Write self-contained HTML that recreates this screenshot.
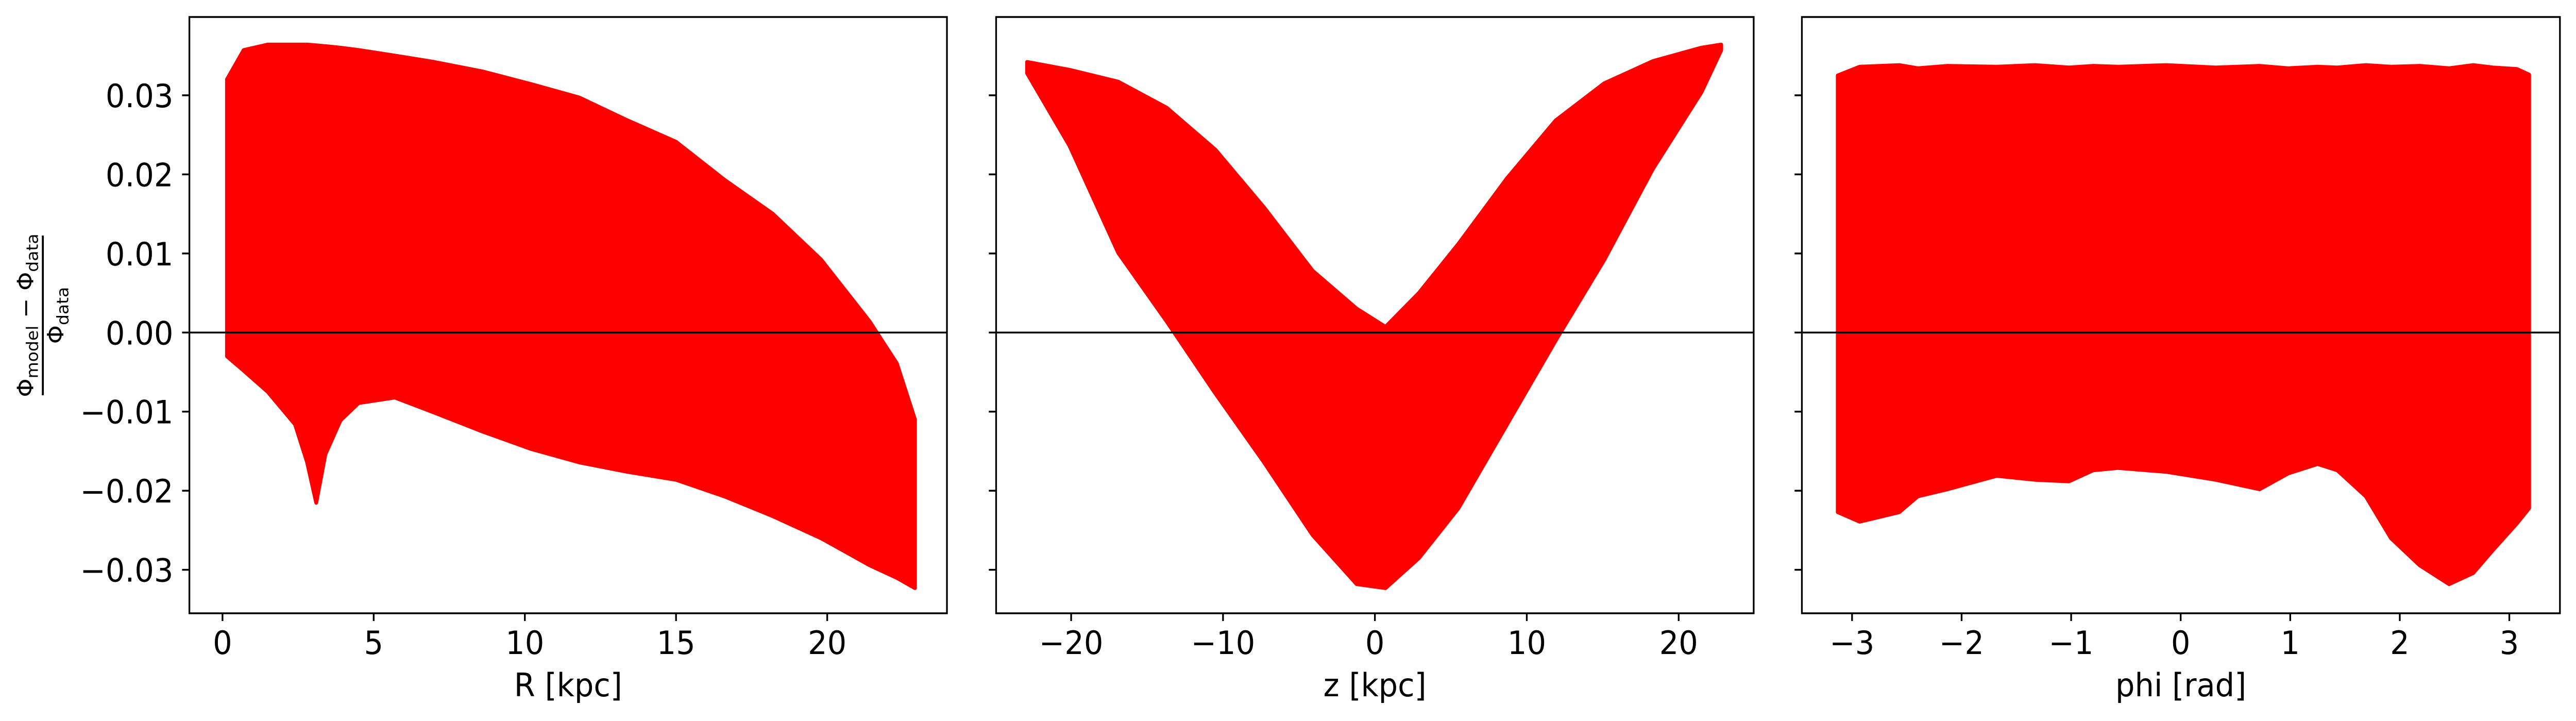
<!DOCTYPE html>
<html><head><meta charset="utf-8"><style>
html,body{margin:0;padding:0;background:#fff;overflow:hidden;width:100%;height:100%;}
svg{display:block;position:absolute;left:0;top:0;width:100vw;height:100vh;font-family:"DejaVu Sans","Liberation Sans",sans-serif;}
</style></head><body>
<svg id="chart" viewBox="0 0 5291 1399" preserveAspectRatio="none" xmlns="http://www.w3.org/2000/svg">
<g transform="translate(88,612) rotate(-90)">
  <text x="0" y="-20" text-anchor="middle" font-size="46">Φ<tspan font-size="33" dy="10">model</tspan><tspan dy="-10"> − Φ</tspan><tspan font-size="33" dy="10">data</tspan></text>
  <line x1="-155" y1="0" x2="155" y2="0" stroke="#000" stroke-width="4"/>
  <text x="0" y="42" text-anchor="middle" font-size="46">Φ<tspan font-size="33" dy="10">data</tspan></text>
</g>
</svg>
<script>
// Shared y axis
const yTicks = [-0.03, -0.02, -0.01, 0.00, 0.01, 0.02, 0.03];
const yTickLabels = ["−0.03", "−0.02", "−0.01", "0.00", "0.01", "0.02", "0.03"];
const yMin = -0.0355, yMax = 0.0399;

// Panel 1: R [kpc]
const rTicks = [0, 5, 10, 15, 20];
const rX = [0.15, 0.7, 1.5, 2.4, 2.8, 3.1, 3.4, 3.9, 4.5, 5.7, 7, 8.6, 10.2, 11.8, 13.4, 15, 16.6, 18.2, 19.8, 21.4, 22.3, 22.9];
const rUpper = [0.032, 0.0357, 0.0364, 0.0364, 0.0364, 0.0363, 0.0362, 0.036, 0.0357, 0.035, 0.0342, 0.033, 0.0314, 0.0297, 0.0268, 0.0241, 0.0193, 0.015, 0.0092, 0.0014, -0.0039, -0.011];
const rLower = [-0.003, -0.0048, -0.0075, -0.0116, -0.0164, -0.0215, -0.0154, -0.0111, -0.0089, -0.0082, -0.0101, -0.0125, -0.0147, -0.0164, -0.0176, -0.0186, -0.0207, -0.0232, -0.026, -0.0294, -0.031, -0.0323];

// Panel 2: z [kpc]
const zTicks = [-20, -10, 0, 10, 20];
const zX = [-22.9, -20.1, -16.9, -13.7, -10.5, -7.3, -4.1, -1.2, 0.7, 2.9, 5.5, 8.7, 11.9, 15.1, 18.3, 21.5, 22.8];
const zUpper = [0.0342, 0.0332, 0.0317, 0.0284, 0.0231, 0.0158, 0.0078, 0.003, 0.0007, 0.005, 0.0112, 0.0195, 0.0268, 0.0315, 0.0343, 0.036, 0.0364];
const zLower = [0.0328, 0.0236, 0.0101, 0.0014, -0.0077, -0.0164, -0.0256, -0.0318, -0.0323, -0.0285, -0.0222, -0.0116, -0.001, 0.0092, 0.0207, 0.0304, 0.0357];

// Panel 3: phi [rad]
const pTicks = [-3, -2, -1, 0, 1, 2, 3];
const pTickLabels = ["−3", "−2", "−1", "0", "1", "2", "3"];
const pX = [-3.13, -2.93, -2.57, -2.4, -2.13, -1.68, -1.33, -1.02, -0.8, -0.57, -0.13, 0.32, 0.72, 0.98, 1.25, 1.43, 1.69, 1.92, 2.18, 2.45, 2.67, 2.85, 3.07, 3.18];
const pUpper = [0.0325, 0.0336, 0.0338, 0.0334, 0.0337, 0.0336, 0.0338, 0.0335, 0.0337, 0.0336, 0.0338, 0.0335, 0.0337, 0.0334, 0.0336, 0.0335, 0.0338, 0.0336, 0.0337, 0.0334, 0.0338, 0.0335, 0.0333, 0.0326];
const pLower = [-0.0227, -0.0239, -0.0227, -0.0207, -0.0198, -0.0181, -0.0186, -0.0188, -0.0174, -0.0171, -0.0176, -0.0186, -0.0198, -0.0178, -0.0166, -0.0174, -0.0207, -0.026, -0.0294, -0.0318, -0.0304, -0.0275, -0.0241, -0.0222];

const NS = "http://www.w3.org/2000/svg";
const svg = document.getElementById("chart");
const TOP = 33, BOT = 1190;
function yScale(v){ return TOP + (yMax - v) / (yMax - yMin) * (BOT - TOP); }
function mk(tag, attrs, parent){ const e = document.createElementNS(NS, tag); for (const k in attrs) e.setAttribute(k, attrs[k]); (parent||svg).appendChild(e); return e; }

const panels = [
  {name:"r", left:389, right:1945, xmin:-1.095, xmax:23.96, xs:rX, up:rUpper, lo:rLower, ticks:rTicks, labels:rTicks.map(String), title:"R [kpc]", ylabels:true},
  {name:"z", left:2046, right:3602, xmin:-24.94, xmax:24.94, xs:zX, up:zUpper, lo:zLower, ticks:zTicks, labels:zTicks.map(t=>t<0?"−"+(-t):String(t)), title:"z [kpc]", ylabels:false},
  {name:"phi", left:3701, right:5258, xmin:-3.458, xmax:3.462, xs:pX, up:pUpper, lo:pLower, ticks:pTicks, labels:pTickLabels, title:"phi [rad]", ylabels:false}
];

panels.forEach(p => {
  const g = mk("g", {});
  
  
  const xS = v => p.left + (v - p.xmin) / (p.xmax - p.xmin) * (p.right - p.left);
  let pts = [];
  for (let i = 0; i < p.xs.length; i++) pts.push(xS(p.xs[i]).toFixed(1) + "," + yScale(p.up[i]).toFixed(1));
  for (let i = p.xs.length - 1; i >= 0; i--) pts.push(xS(p.xs[i]).toFixed(1) + "," + yScale(p.lo[i]).toFixed(1));
  const poly = mk("polygon", {points: pts.join(" "), fill: "#ff0000", stroke: "#ff0000", "stroke-width": 8, "stroke-linejoin": "round"}, g);
  
  
  const zl = mk("line", {x1: p.left, x2: p.right, y1: yScale(0), y2: yScale(0), stroke: "#000", "stroke-width": 3.5}, g);
  
  
  const fr = mk("rect", {x: p.left, y: TOP, width: p.right - p.left, height: BOT - TOP, fill: "none", stroke: "#000", "stroke-width": 3.5}, g);
  
  
  yTicks.forEach((t, i) => {
    const y = yScale(t);
    const tk = mk("line", {x1: p.left - 15, x2: p.left, y1: y, y2: y, stroke: "#000", "stroke-width": 3.5}, g);
    
    
    if (p.ylabels) {
      const tx = mk("text", {x: p.left - 33, y: y + 23, "text-anchor": "end", "font-size": 62.5}, g);
      
      
      tx.textContent = yTickLabels[i];
    }
  });
  p.ticks.forEach((t, i) => {
    const x = xS(t);
    const tk = mk("line", {x1: x, x2: x, y1: BOT, y2: BOT + 15, stroke: "#000", "stroke-width": 3.5}, g);
    
    
    const tx = mk("text", {x: x, y: 1269, "text-anchor": "middle", "font-size": 62.5}, g);
    
    
    tx.textContent = p.labels[i];
  });
  const xt = mk("text", {x: (p.left + p.right) / 2, y: 1351, "text-anchor": "middle", "font-size": 62.5}, g);
  
  
  xt.textContent = p.title;
});
</script>
</body></html>
